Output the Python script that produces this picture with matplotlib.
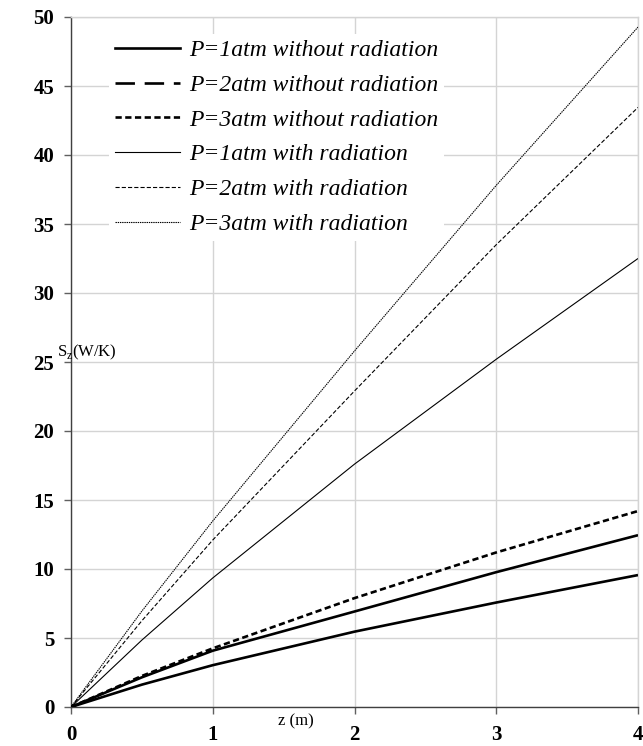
import matplotlib
matplotlib.use("Agg")
import matplotlib.pyplot as plt
from matplotlib.lines import Line2D

plt.rcParams['lines.scale_dashes'] = False

# Axial position along the channel (m)
z = [0.0, 0.5, 1.0, 2.0, 3.0, 4.0]

# Entropy generation S_z (W/K)
p1_without = [0.0, 1.62, 3.03, 5.46, 7.57, 9.56]
p2_without = [0.0, 2.15, 4.08, 6.92, 9.77, 12.45]
p3_without = [0.0, 2.25, 4.25, 7.89, 11.2, 14.2]
p1_with = [0.0, 4.85, 9.35, 17.6, 25.2, 32.5]
p2_with = [0.0, 6.25, 12.1, 22.9, 33.5, 43.45]
p3_with = [0.0, 6.95, 13.48, 25.8, 37.8, 49.27]

labels = [
    "P=1atm without radiation",
    "P=2atm without radiation",
    "P=3atm without radiation",
    "P=1atm with radiation",
    "P=2atm with radiation",
    "P=3atm with radiation",
]

x_ticks = [0, 1, 2, 3, 4]
y_ticks = [0, 5, 10, 15, 20, 25, 30, 35, 40, 45, 50]

serif = "Liberation Serif"

fig = plt.figure(figsize=(6.43, 7.46), dpi=100)
ax = fig.add_axes([71 / 643, 1 - 707 / 746, 567 / 643, 690 / 746])

thick = 1.9
thin = 0.8
styles = [
    dict(lw=thick, ls="-"),
    dict(lw=thick, ls=(0, (14, 7))),
    dict(lw=thick, ls=(0, (4.5, 2.5))),
    dict(lw=thin, ls="-"),
    dict(lw=thin, ls=(0, (3, 1.5))),
    dict(lw=thin, ls=(0, (1, 0.6))),
]
series = [p1_without, p2_without, p3_without, p1_with, p2_with, p3_with]

for i, (vals, st) in enumerate(zip(series, styles)):
    ls = st["ls"]
    # the 2 atm dry-gas curve is traced as a continuous stroke on the axes
    if i == 1:
        ls = "-"
    ax.plot(z, vals, color="black", lw=st["lw"], ls=ls, zorder=3,
            solid_capstyle="butt", solid_joinstyle="round")

handles = [Line2D([], [], color="black", lw=st["lw"], ls=st["ls"]) for st in styles]

ax.set_xlim(0, 4)
ax.set_ylim(0, 50)
ax.set_xticks(x_ticks)
ax.set_yticks(y_ticks)
ax.grid(True, color="#d4d4d4", lw=1.0, zorder=0)
ax.set_axisbelow(True)

for side in ("top", "right"):
    ax.spines[side].set_color("#d4d4d4")
    ax.spines[side].set_linewidth(1.0)
for side in ("left", "bottom"):
    ax.spines[side].set_color("#404040")
    ax.spines[side].set_linewidth(1.0)

ax.tick_params(axis="y", direction="out", length=5, width=1, color="#606060", pad=7)
ax.tick_params(axis="x", direction="out", length=5, width=1, color="#606060", pad=8)
for lab in ax.get_xticklabels() + ax.get_yticklabels():
    lab.set_fontfamily(serif)
    lab.set_fontweight("bold")
    lab.set_fontsize(15)

leg = ax.legend(handles, labels, loc="upper left",
                bbox_to_anchor=(26 / 567, 1 - 5 / 690),
                frameon=True, facecolor="white", edgecolor="none", framealpha=1,
                fancybox=False, handlelength=2.75, handletextpad=0.4,
                labelspacing=0.56, borderpad=0.25,
                prop=dict(family=serif, style="italic", size=17))
leg.set_zorder(5)

fig.text(296 / 643, 1 - 721 / 746, "z (m)", family=serif, fontsize=12,
         ha="center", va="center")
fig.text(87 / 643, 1 - 352 / 746, r"S$_{\mathregular{z}}$(W/K)", family=serif,
         fontsize=12, ha="center", va="center")

fig.savefig("out.png", dpi=100)
